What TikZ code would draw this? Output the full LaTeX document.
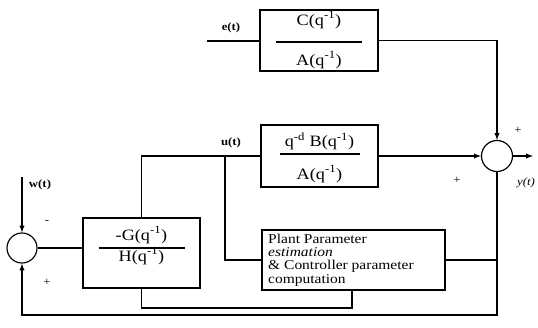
\documentclass[tikz,border=0pt]{standalone}
\usepackage{fontspec}
\setmainfont{Liberation Serif}[FakeStretch=1.15]
\usetikzlibrary{calc}

\begin{document}
\begin{tikzpicture}[x=0.03cm,y=-0.03cm]
	% Styles
	\tikzstyle{fleche}=[->,>=latex,line width=1pt]
	\tikzstyle{trait}=[-,line width=1pt]
	\tikzstyle{bloc}=[draw,line width=1pt,inner sep=0pt]
	\tikzstyle{sommateur}=[draw,circle,line width=1pt,inner sep=0pt]
	\tikzstyle{terme}=[inner sep=0pt,font=\fontsize{13.5}{13.5}\selectfont]
	\tikzstyle{etiquette}=[inner sep=0pt,font=\fontsize{9.5}{10}\selectfont\bfseries]
	\tikzstyle{signe}=[inner sep=0pt,font=\fontsize{9.5}{9.5}\selectfont]
	% Dimensions
	\def\DemiBarre{43}
	\useasboundingbox (0,0) rectangle (538,327);
	% Blocs
	\node[bloc,minimum width=3.54cm,minimum height=1.83cm] (CA) at (319,40.5) {};
	\node[terme] (CAnum) at (319,20) {C(q\textsuperscript{-1})};
	\node[terme] (CAden) at (319,60) {A(q\textsuperscript{-1})};
	\draw[trait] ($(CA.center)+(-\DemiBarre,1.5)$) -- ($(CA.center)+(\DemiBarre,1.5)$);
	\node[bloc,minimum width=3.51cm,minimum height=1.86cm] (BA) at (319.5,156) {};
	\node[terme] (BAnum) at (319.5,141) {q\textsuperscript{-d} B(q\textsuperscript{-1})};
	\node[terme] (BAden) at (319.5,174) {A(q\textsuperscript{-1})};
	\draw[trait] ($(BA.center)+(-40,-2)$) -- ($(BA.center)+(40,-2)$);
	\node[bloc,minimum width=3.51cm,minimum height=2.1cm] (GH) at (141.5,253) {};
	\node[terme] (GHnum) at (141.5,235) {-G(q\textsuperscript{-1})};
	\node[terme] (GHden) at (141.5,256) {H(q\textsuperscript{-1})};
	\draw[trait] ($(GH.center)+(-\DemiBarre,-5)$) -- ($(GH.center)+(\DemiBarre,-5)$);
	\node[bloc,minimum width=5.49cm,minimum height=1.8cm] (PP) at (353.5,260) {};
	\node[anchor=west,align=left,inner sep=0pt,font=\fontsize{11.5}{11.3}\selectfont] (PPtexte) at (268,260)
		{Plant Parameter\\\textit{estimation}\\\& Controller parameter\\computation};
	% Sommateurs
	\node[sommateur,minimum size=0.93cm] (SY) at (497,156) {};
	\node[sommateur,minimum size=0.9cm] (SW) at (22,248) {};
	% Points
	\coordinate (e) at (207,41);
	\coordinate (w) at (22,177);
	\coordinate (y) at (533,156);
	\coordinate (u) at (225,156);
	\coordinate (bas) at (352,308);
	\coordinate (retour) at (260,315);
	% Arcs
	\draw[trait] (e) -- (e -| CA.west);
	\draw[fleche] (CA.east) -| (SY.north);
	\draw[fleche] (BA.east) -- (SY.west);
	\draw[fleche] (SY.east) -- (y);
	\draw[fleche] (w) -- (SW.north);
	\draw[trait] (SW.east) -- (SW.east -| GH.west);
	\draw[trait] (GH.north) |- (BA.west);
	\draw[trait] (u) |- (PP.west);
	\draw[trait] (GH.south) |- (bas) -- (bas |- PP.south);
	\draw[trait] (PP.east) -- (PP.east -| SY.south);
	\draw[fleche] (SY.south) |- (retour) -| (SW.south);
	% Etiquettes
	\node[etiquette] (le) at (231,28) {e(t)};
	\node[etiquette] (lu) at (231,143) {u(t)};
	\node[etiquette] (lw) at (40,185) {w(t)};
	\node[inner sep=0pt,font=\fontsize{9.5}{9.5}\selectfont\itshape] (ly) at (526,183) {y(t)};
	\node[signe] (s1) at (47,222) {-};
	\node[signe] (s2) at (47,282) {+};
	\node[signe] (s3) at (518,130) {+};
	\node[signe] (s4) at (457,180) {+};
\end{tikzpicture}
\end{document}
